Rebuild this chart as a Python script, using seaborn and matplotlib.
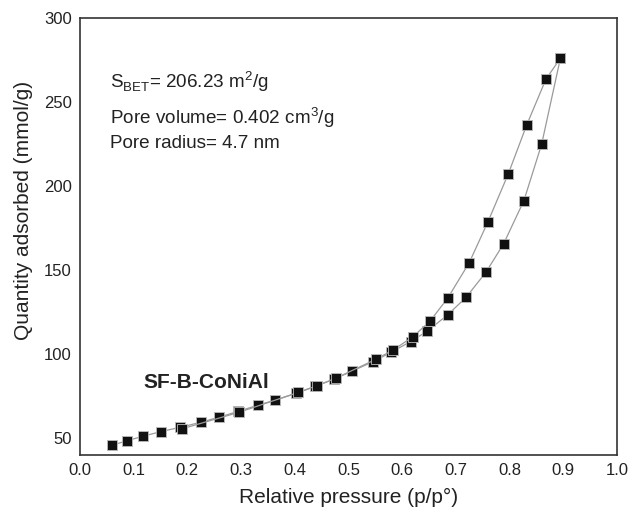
import numpy as np
import pandas as pd
import matplotlib
matplotlib.use("Agg")
import matplotlib.pyplot as plt
import seaborn as sns

# Data (isoterm adsorpsi / desorpsi)
p_ads = [0.060, 0.088, 0.118, 0.151, 0.187, 0.225, 0.259, 0.294, 0.331, 0.363,
         0.402, 0.438, 0.473, 0.507, 0.545, 0.579, 0.616, 0.647, 0.685, 0.719,
         0.756, 0.789, 0.827, 0.860, 0.895]
q_ads = [45.8, 48.6, 51.2, 54.0, 56.5, 59.5, 62.5, 65.9, 69.6, 72.6,
         76.6, 80.8, 85.1, 89.9, 95.4, 101.0, 107.5, 113.7, 123.4, 133.7,
         148.6, 165.5, 191.3, 224.8, 276.0]
p_des = [0.895, 0.868, 0.832, 0.798, 0.760, 0.725, 0.685, 0.652, 0.620, 0.584,
         0.551, 0.476, 0.442, 0.406, 0.297, 0.190]
q_des = [276.0, 263.5, 236.1, 207.3, 178.7, 154.3, 133.3, 119.6, 110.3, 102.6,
         96.9, 85.6, 81.3, 77.2, 65.5, 55.6]

sns.set_style("white")
plt.rcParams["font.family"] = ["Liberation Sans", "DejaVu Sans"]

fig = plt.figure(figsize=(6.3, 5.09), dpi=100)
ax = fig.add_axes([0.127, 0.106, 0.852, 0.859])

for px, qy in [(p_ads, q_ads), (p_des, q_des)]:
    sns.lineplot(x=px, y=qy, sort=False, estimator=None, color="#9a9a9a",
                 linewidth=0.9, marker="s", markersize=7.8,
                 markerfacecolor="#111111", markeredgecolor="#bbbbbb",
                 markeredgewidth=0.6, ax=ax)

ax.set_xlim(0, 1.0)
ax.set_ylim(40, 300)
ax.set_xticks(np.arange(0, 1.01, 0.1))
ax.set_xticklabels([f"{v:.1f}" for v in np.arange(0, 1.01, 0.1)])
ax.set_yticks([50, 100, 150, 200, 250, 300])
ax.tick_params(length=0, labelsize=12, pad=6, colors="#222222")
for s in ax.spines.values():
    s.set_color("#333333")
    s.set_linewidth(1.2)

ax.set_xlabel("Relative pressure (p/p°)", fontsize=15, color="#222222", labelpad=7)
ax.set_ylabel("Quantity adsorbed (mmol/g)", fontsize=15, color="#222222")
ax.yaxis.set_label_coords(-0.088, 0.56)

ax.text(0.056, 258.3, r"S$_{\mathregular{BET}}$= 206.23 m$^{\mathregular{2}}$/g",
        fontsize=13.6, color="#222222")
ax.text(0.056, 236.9, r"Pore volume= 0.402 cm$^{\mathregular{3}}$/g",
        fontsize=13.6, color="#222222")
ax.text(0.056, 222.6, "Pore radius= 4.7 nm", fontsize=13.6, color="#222222")
ax.text(0.118, 80.0, "SF-B-CoNiAl", fontsize=15, fontweight="bold", color="#222222")

fig.savefig("out.png", dpi=100)
